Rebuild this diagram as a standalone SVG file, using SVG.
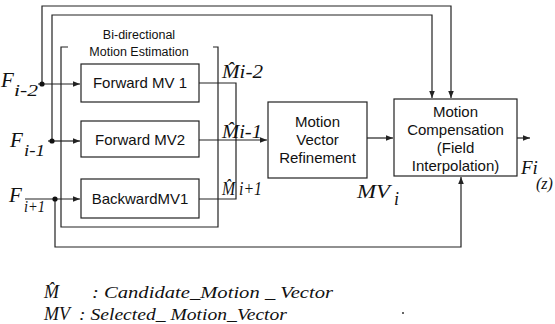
<svg xmlns="http://www.w3.org/2000/svg" width="555" height="324" viewBox="0 0 555 324">
<defs>
<style>
.box{fill:#fff;stroke:#222;stroke-width:1.2}
.ln{fill:none;stroke:#222;stroke-width:1.2}
.lbl{font-family:"Liberation Sans",Arial,sans-serif;font-size:15px;fill:#111;text-anchor:middle}
.sm{font-family:"Liberation Sans",Arial,sans-serif;font-size:12.5px;fill:#111;text-anchor:middle}
.m{font-family:"Liberation Serif","Times New Roman",serif;font-style:italic;fill:#111}
</style>
<marker id="ar" viewBox="0 0 10 10" refX="10" refY="5" markerWidth="7" markerHeight="7" orient="auto" markerUnits="userSpaceOnUse">
<path d="M0,1 L10,5 L0,9 Z" fill="#222"/>
</marker>
</defs>
<rect width="555" height="324" fill="#fff"/>

<g id="connectors">
<path class="ln" d="M42,84 V6 H451 V98" marker-end="url(#ar)"/>
<path class="ln" d="M52,141 V15 H432 V98" marker-end="url(#ar)"/>
<path class="ln" d="M55,199 V247 H461 V177" marker-end="url(#ar)"/>
<path class="ln" d="M38,84 H80" marker-end="url(#ar)"/>
<path class="ln" d="M48,141 H80" marker-end="url(#ar)"/>
<path class="ln" d="M25,199 H80" marker-end="url(#ar)"/>
<path class="ln" d="M199,83 H236 V199 H199"/>
<path class="ln" d="M199,140 H267" marker-end="url(#ar)"/>
<path class="ln" d="M367,138 H393" marker-end="url(#ar)"/>
<path class="ln" d="M517,138 H530" marker-end="url(#ar)"/>
<circle cx="42" cy="84" r="2.6" fill="#111"/>
<circle cx="52" cy="141" r="2.6" fill="#111"/>
<circle cx="55" cy="199" r="2.6" fill="#111"/>
</g>

<g id="bidirectional">
<path class="ln" d="M68,47 H61 V227 H218 V47 H213"/>
<text class="sm" x="139" y="39">Bi-directional</text>
<text class="sm" x="139" y="56">Motion Estimation</text>
</g>

<g id="fwd1">
<rect class="box" x="81" y="64" width="118" height="38"/>
<text class="lbl" x="140" y="88">Forward MV 1</text>
</g>
<g id="fwd2">
<rect class="box" x="81" y="121" width="118" height="36"/>
<text class="lbl" x="140" y="145">Forward MV2</text>
</g>
<g id="bwd1">
<rect class="box" x="81" y="179" width="118" height="39"/>
<text class="lbl" x="140" y="204">BackwardMV1</text>
</g>
<g id="mvr">
<rect class="box" x="268" y="102" width="99" height="76"/>
<text class="lbl" x="317.5" y="127">Motion</text>
<text class="lbl" x="317.5" y="145">Vector</text>
<text class="lbl" x="317.5" y="163">Refinement</text>
</g>
<g id="mc">
<rect class="box" x="394" y="99" width="123" height="77"/>
<text class="lbl" x="455.5" y="117">Motion</text>
<text class="lbl" x="455.5" y="135">Compensation</text>
<text class="lbl" x="455.5" y="153">(Field</text>
<text class="lbl" x="455.5" y="171">Interpolation)</text>
</g>

<g id="labels">
<text class="m" x="1" y="87" font-size="21">F</text>
<text class="m" x="14" y="96" font-size="17" textLength="24" lengthAdjust="spacingAndGlyphs">i-2</text>
<text class="m" x="10" y="147" font-size="21">F</text>
<text class="m" x="24" y="156" font-size="17" textLength="21" lengthAdjust="spacingAndGlyphs">i-1</text>
<text class="m" x="9" y="202" font-size="21">F</text>
<text class="m" x="24" y="212" font-size="17" textLength="21" lengthAdjust="spacingAndGlyphs">i+1</text>
<text class="m" x="222" y="78" font-size="18" textLength="41" lengthAdjust="spacingAndGlyphs">M̂i-2</text>
<text class="m" x="222" y="138" font-size="18" textLength="40" lengthAdjust="spacingAndGlyphs">M̂i-1</text>
<text class="m" x="222" y="195" font-size="18" textLength="40" lengthAdjust="spacingAndGlyphs">M̂ i+1</text>
<text class="m" x="357" y="198" font-size="18" textLength="33" lengthAdjust="spacingAndGlyphs">MV</text>
<text class="m" x="394" y="205" font-size="18">i</text>
<text class="m" x="521" y="174" font-size="19">Fi</text>
<text class="m" x="536" y="189" font-size="16">(z)</text>
</g>

<g id="legend">
<text class="m" x="44" y="298" font-size="18">M̂</text>
<text class="m" x="92" y="298" font-size="17" textLength="241" lengthAdjust="spacingAndGlyphs">: Candidate_Motion _ Vector</text>
<text class="m" x="44" y="320" font-size="18">MV</text>
<text class="m" x="79" y="320" font-size="17" textLength="208" lengthAdjust="spacingAndGlyphs">: Selected_ Motion_Vector</text>
<circle cx="403" cy="313" r="1" fill="#333"/>
</g>
</svg>
